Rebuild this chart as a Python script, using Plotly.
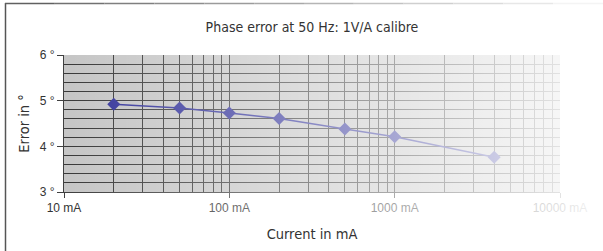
import base64
import plotly.graph_objects as go

# ---- data ----
current_ma = [20, 50, 100, 200, 500, 1000, 4000]
error_deg = [4.92, 4.84, 4.73, 4.61, 4.38, 4.21, 3.76]
x_tickvals = [10, 100, 1000, 10000]
x_ticktext = ["10 mA", "100 mA", "1000 mA", "10000 mA"]
x_minor = [m * d for d in (10, 100, 1000) for m in range(2, 10)]
y_tickvals = [3, 4, 5, 6]
y_ticktext = ["3 °", "4 °", "5 °", "6 °"]

W, H = 603, 251
L, R, T, B = 64, 43, 55, 59
pw, ph = W - L - R, H - T - B

# white fade overlay (left->right), as an SVG gradient
svg = f'''<svg xmlns="http://www.w3.org/2000/svg" width="{W}" height="{H}" viewBox="0 0 {W} {H}" preserveAspectRatio="none">
<defs><linearGradient id="g" x1="0" y1="0" x2="1" y2="0">
<stop offset="0" stop-color="#fff" stop-opacity="0"/>
<stop offset="{70/W:.4f}" stop-color="#fff" stop-opacity="0"/>
<stop offset="{560/W:.4f}" stop-color="#fff" stop-opacity="0.85"/>
<stop offset="1" stop-color="#fff" stop-opacity="0.95"/>
</linearGradient></defs>
<rect x="0" y="0" width="{W}" height="{H}" fill="url(#g)"/></svg>'''
src = "data:image/svg+xml;base64," + base64.b64encode(svg.encode()).decode()

tick_font = dict(family="Liberation Sans, Arial, sans-serif", size=12, color="#333333")
cond = "Liberation Sans Narrow, DejaVu Sans Condensed, Roboto, sans-serif"
title_font = dict(family=cond, size=14, color="#333333")
axis_title_font = dict(family=cond, size=14.5, color="#333333")


def px_x(p):
    return (p - L) / pw


def px_y(p):
    return 1 - (p - T) / ph


# outer frame: left edge dark, top edge fading to the right
frame = [dict(type="line", xref="paper", yref="paper",
              x0=px_x(5.5), x1=px_x(5.5), y0=px_y(H + 5), y1=px_y(3),
              line=dict(color="#555555", width=1.5))]
nseg = 12
for i in range(nseg):
    a0 = 5 + (W - 5) * i / nseg
    a1 = 5 + (W - 5) * (i + 1) / nseg
    g = int(0x60 + (0xf4 - 0x60) * (i / (nseg - 1)) ** 0.9)
    frame.append(dict(type="line", xref="paper", yref="paper",
                      x0=px_x(a0), x1=px_x(a1), y0=px_y(3.5), y1=px_y(3.5),
                      line=dict(color=f"rgb({g},{g},{g})", width=1.5)))

fig = go.Figure()
fig.add_trace(go.Scatter(
    x=current_ma, y=error_deg, mode="lines+markers",
    line=dict(color="#35359a", width=1.4),
    marker=dict(symbol="diamond", size=10, color="#35359a"),
    showlegend=False,
))

fig.update_layout(
    width=W, height=H,
    margin=dict(l=L, r=R, t=T, b=B, autoexpand=False),
    paper_bgcolor="white",
    plot_bgcolor="#c6c6c6",
    title=dict(text="Phase error at 50 Hz: 1V/A calibre", x=0.5, xref="paper",
               xanchor="center", y=1 - 27 / H, yanchor="middle", font=title_font),
    xaxis=dict(
        type="log", range=[1, 4], tickvals=x_tickvals, ticktext=x_ticktext,
        tickfont=tick_font, showgrid=True, gridcolor="#3a3a3a", gridwidth=1,
        minor=dict(tickvals=x_minor, showgrid=True, gridcolor="#3a3a3a", gridwidth=1),
        ticks="outside", ticklen=5, tickcolor="#404040",
        showline=True, linecolor="#404040", linewidth=1, zeroline=False,
        automargin=False,
        title=dict(text="Current in mA", font=axis_title_font, standoff=14),
    ),
    yaxis=dict(
        range=[3, 6], tickvals=y_tickvals, ticktext=y_ticktext,
        tickfont=tick_font, showgrid=True, gridcolor="#3a3a3a", gridwidth=1,
        minor=dict(dtick=0.2, showgrid=True, gridcolor="#3a3a3a", gridwidth=1),
        ticks="outside", ticklen=6, tickcolor="#404040",
        showline=True, linecolor="#404040", linewidth=1, zeroline=False,
        automargin=False,
        title=dict(text="Error in °", font=axis_title_font, standoff=6),
    ),
    shapes=frame,
    images=[dict(source=src, xref="paper", yref="paper", x=-L / pw, y=1 + T / ph,
                 sizex=W / pw, sizey=H / ph, xanchor="left", yanchor="top",
                 sizing="stretch", layer="above", opacity=1)],
)

fig.write_html("out.html", config={"displayModeBar": False},
               post_script="document.body.style.margin='0';document.body.style.overflow='hidden';")
